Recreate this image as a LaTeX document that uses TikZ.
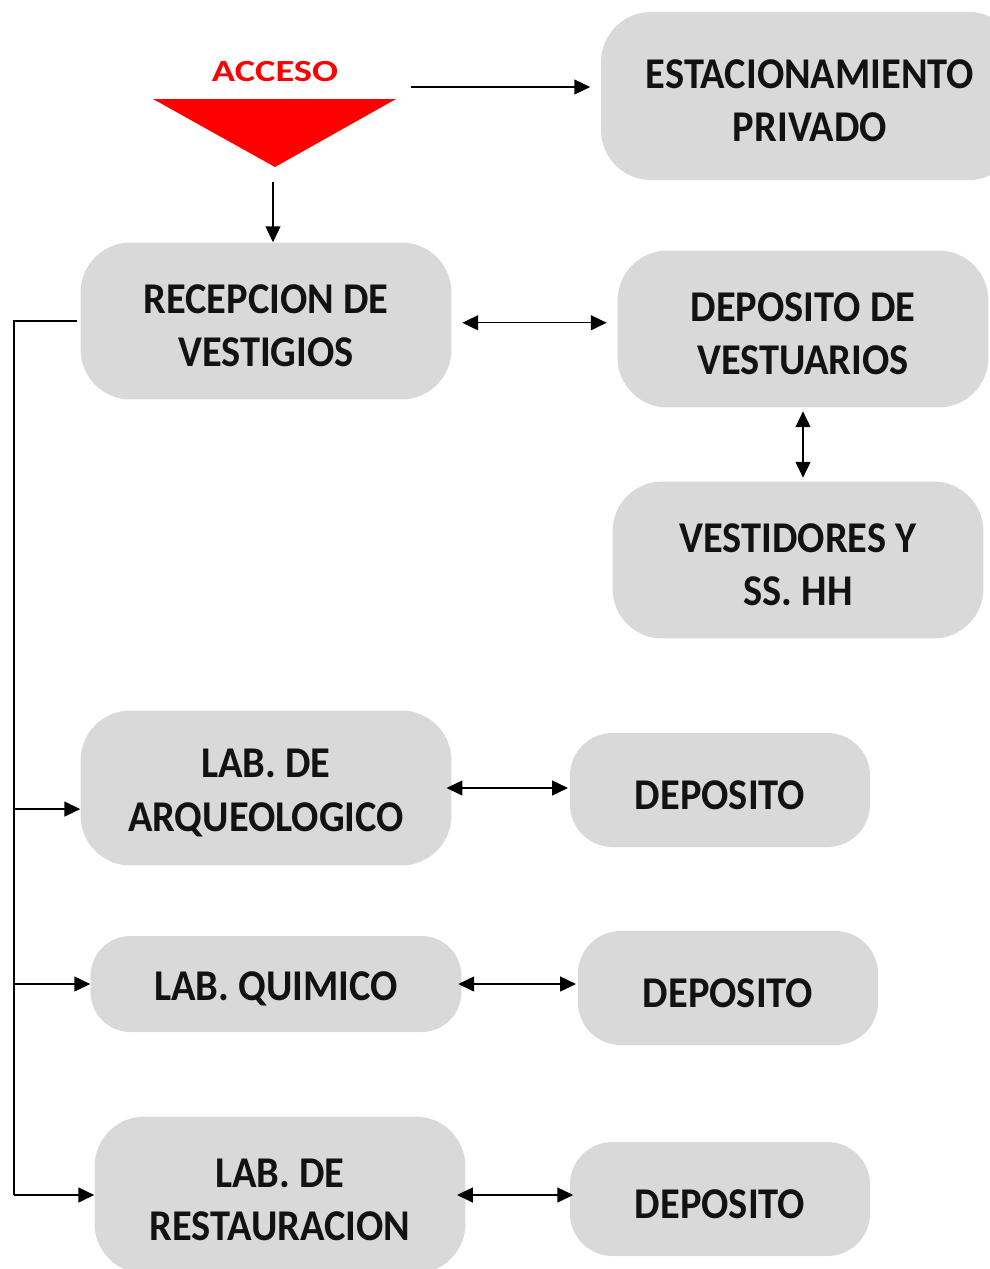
\documentclass[tikz,border=0pt]{standalone}
\usepackage{fontspec}
\setmainfont{Carlito}
\newfontfamily\boxfont{Carlito}[FakeStretch=0.92]
\newfontfamily\accfont{Carlito}[FakeStretch=1.25]
\usetikzlibrary{arrows.meta}
\definecolor{boxgray}{HTML}{D9D9D9}
\definecolor{accred}{HTML}{FF0000}

\begin{document}
\begin{tikzpicture}[x=0.02cm,y=-0.02cm,
  area/.style={fill=boxgray,rounded corners=1cm,align=center,inner sep=0pt,
    minimum width=7.42cm,minimum height=3.14cm,text=black!93,
    execute at begin node={\rule{0pt}{21.8pt}},
    font=\boxfont\bfseries\fontsize{25}{30.6}\selectfont},
  pair/.style={area,execute at begin node={\rule{0pt}{52.4pt}}},
  store/.style={area,rounded corners=0.85cm,minimum width=6cm,minimum height=2.28cm},
  link/.style={line width=0.8pt,-{Triangle[length=9pt,width=8.5pt]}},
  both/.style={line width=0.8pt,{Triangle[length=9pt,width=8.5pt]}-{Triangle[length=9pt,width=8.5pt]}}]
  \useasboundingbox (0,0) rectangle (990,1269);
  % access mark
  \fill[accred] (153,99) -- (396,99) -- (275,167) -- cycle;
  \node[text=accred,font=\accfont\bfseries\fontsize{17.5}{20}\selectfont] (acc) at (275,72) {ACCESO};
  \coordinate (accR) at (411,87);
  \coordinate (accB) at (273,182);
  % areas
  \node[pair,minimum width=8.36cm,minimum height=3.36cm] (est) at (810,96) {ESTACIONAMIENTO\\PRIVADO};
  \node[pair] (rec) at (266,321) {RECEPCION DE\\VESTIGIOS};
  \node[pair] (dvest) at (803,329) {DEPOSITO DE\\VESTUARIOS};
  \node[pair] (vesti) at (798,560) {VESTIDORES Y\\SS. HH};
  \node[pair,minimum height=3.1cm] (lab1) at (266,788) {LAB. DE\\ARQUEOLOGICO};
  \node[store] (dep1) at (720,790) {DEPOSITO};
  \node[area,rounded corners=0.8cm,minimum height=1.92cm] (lab2) at (276,984) {LAB. QUIMICO};
  \node[store] (dep2) at (728,988) {DEPOSITO};
  \node[pair] (lab3) at (280,1195) {LAB. DE\\RESTAURACION};
  \node[store] (dep3) at (720,1199) {DEPOSITO};
  % connectors
  \draw[link,shorten >=6pt] (accR) -- (accR -| est.west);
  \draw[link] (accB) -- (accB |- rec.north);
  \draw[both,shorten <=6pt,shorten >=6pt] ([yshift=-1pt]rec.east) -- ([yshift=-1pt]dvest.west |- rec.east);
  \draw[both,shorten <=2pt,shorten >=2pt] (dvest.south) -- (dvest.south |- vesti.north);
  \draw[both,shorten <=-3pt,shorten >=1pt] (lab1.east) -- (lab1.east -| dep1.west);
  \draw[both,shorten <=-2pt,shorten >=1pt] (lab2.east) -- (lab2.east -| dep2.west);
  \draw[both,shorten <=-5pt,shorten >=-2pt] (lab3.east) -- (lab3.east -| dep3.west);
  % side line
  \coordinate (bus) at (14,321);
  \draw[line width=0.8pt] ([xshift=-2pt]rec.west) -- (bus) -- (bus |- lab3.west);
  \draw[link] ([yshift=-12pt]bus |- lab1.west) -- ([yshift=-12pt]lab1.west);
  \draw[link] (bus |- lab2.west) -- (lab2.west);
  \draw[link] (bus |- lab3.west) -- (lab3.west);
\end{tikzpicture}
\end{document}
